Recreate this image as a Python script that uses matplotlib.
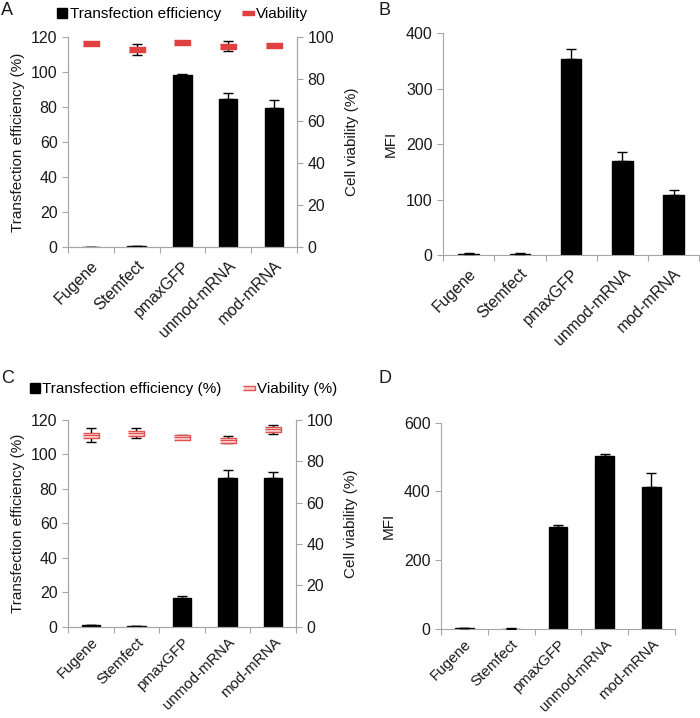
import matplotlib
matplotlib.use('Agg')
import matplotlib.pyplot as plt
from matplotlib.lines import Line2D
import numpy as np

plt.rcParams['font.family'] = ['Liberation Sans', 'DejaVu Sans']
plt.rcParams['font.size'] = 11

categories = ['Fugene', 'Stemfect', 'pmaxGFP', 'unmod-mRNA', 'mod-mRNA']

# panel A
a_eff = [0, 0.3, 98.1, 84.6, 79.2]
a_eff_err = [0, 0.2, 0.5, 3.2, 5.0]
a_via = [97.0, 94.1, 97.6, 95.7, 96.2]
a_via_err = [0.4, 2.6, 0.4, 2.6, 0.5]
# panel B
b_mfi = [2, 2, 354, 170, 109]
b_mfi_err = [1, 1, 18, 16, 8]
# panel C
c_eff = [0.8, 0.2, 16.5, 86.5, 86.5]
c_eff_err = [0.4, 0.1, 1.3, 4.5, 3.2]
c_via = [92.8, 93.6, 91.6, 90.4, 95.4]
c_via_err = [3.5, 2.5, 1.0, 1.6, 2.1]
# panel D
d_mfi = [2, 1, 296, 503, 413]
d_mfi_err = [1, 0.5, 7, 7, 40]

GRAY = '#a6a6a6'
TXT = '#1a1a1a'
dash = [(-1, -0.3), (1, -0.3), (1, 0.3), (-1, 0.3)]

fig = plt.figure(figsize=(7, 7.18), dpi=100)
x = np.arange(len(categories))


def style_x(ax, size=11.5, pad=8):
    ax.set_xlim(-0.5, len(categories) - 0.5)
    ax.set_xticks(np.arange(len(categories) + 1) - 0.5)
    ax.set_xticklabels([])
    ax.set_xticks(x, minor=True)
    ax.set_xticklabels(categories, minor=True, rotation=45, ha='right', va='top',
                       rotation_mode='anchor', color=TXT, fontsize=size)
    ax.tick_params(axis='x', which='major', direction='out', length=4, color=GRAY)
    ax.tick_params(axis='x', which='minor', length=0, pad=pad)
    ax.tick_params(axis='y', direction='out', length=4, color=GRAY, labelcolor=TXT,
                   labelsize=11.5)
    ax.spines['top'].set_visible(False)
    for s in ['left', 'bottom', 'right']:
        ax.spines[s].set_color(GRAY)


def bars(ax, vals, errs):
    ax.bar(x, vals, width=0.4, color='black', edgecolor='black', zorder=2)
    ax.errorbar(x, vals, yerr=[np.zeros(len(vals)), errs], fmt='none',
                ecolor='black', elinewidth=1, capsize=3.5, capthick=1, zorder=3)


def via_panel(rect, eff, eff_err, via, via_err, filled, leg1, leg2, letter, leg_x, leg_y,
              let_y, xsize, xpad):
    ax = fig.add_axes(rect)
    bars(ax, eff, eff_err)
    style_x(ax, xsize, xpad)
    ax.set_ylim(0, 120)
    ax.set_yticks(range(0, 121, 20))
    ax.set_ylabel('Transfection efficiency (%)', color=TXT, labelpad=4)
    ax2 = ax.twinx()
    ax2.set_ylim(0, 100)
    ax2.set_yticks(range(0, 101, 20))
    ax2.tick_params(axis='y', direction='out', length=4, color=GRAY, labelcolor=TXT,
                    labelsize=11.5)
    for s in ['left', 'bottom', 'right']:
        ax2.spines[s].set_color(GRAY)
    ax2.spines['top'].set_visible(False)
    ax2.set_ylabel('Cell viability (%)', color=TXT, labelpad=8)
    ax2.errorbar(x, via, yerr=via_err, fmt='none', ecolor='black', elinewidth=1,
                 capsize=3.5, capthick=1, zorder=2)
    if filled:
        mk = dict(marker=dash, markersize=12, color='#e0403f', markeredgecolor='#e0403f',
                  markerfacecolor='#e0403f', linestyle='none')
    else:
        mk = dict(marker=dash, markersize=12, color='#e05050', markeredgecolor='#e05050',
                  markerfacecolor='#f9d0d0', markeredgewidth=1, linestyle='none')
    ax2.plot(x, via, zorder=3, **mk)
    if not filled:
        ax2.plot(x, via, marker='_', markersize=11, markeredgewidth=0.8,
                 color='#e05050', linestyle='none', zorder=4)
    h1 = Line2D([], [], marker='s', color='black', markersize=7, linestyle='none')
    lk = dict(mk)
    lk['markersize'] = 8
    h2 = Line2D([], [], **lk)
    ax.legend([h1, h2], [leg1, leg2], ncol=2, frameon=False, loc='center left',
              bbox_to_anchor=(leg_x, leg_y), handlelength=0.8, handletextpad=0.1,
              columnspacing=1.4, borderaxespad=0, fontsize=11)
    fig.text(0.002, let_y, letter, fontsize=13, color=TXT, va='top')
    return ax


def mfi_panel(rect, vals, errs, ymax, letter, ty, xsize, xpad):
    ax = fig.add_axes(rect)
    bars(ax, vals, errs)
    style_x(ax, xsize, xpad)
    ax.spines['right'].set_visible(False)
    ax.set_ylim(0, ymax)
    ax.set_yticks(np.arange(0, ymax + 1, 100 if ymax == 400 else 200))
    ax.set_ylabel('MFI', color=TXT, labelpad=6)
    fig.text(0.541, ty, letter, fontsize=13, color=TXT, va='top')
    return ax


via_panel([0.0971, 0.656, 0.327, 0.2925], a_eff, a_eff_err, a_via, a_via_err, True,
          'Transfection efficiency', 'Viability', 'A', -0.08, 1.11, 0.997, 11.5, 8)
mfi_panel([0.633, 0.6448, 0.366, 0.309], b_mfi, b_mfi_err, 400, 'B', 0.997, 11.5, 8)
via_panel([0.0971, 0.1272, 0.3258, 0.2879], c_eff, c_eff_err, c_via, c_via_err, False,
          'Transfection efficiency (%)', 'Viability (%)', 'C', -0.2, 1.15, 0.485, 10.8, 6)
mfi_panel([0.63, 0.124, 0.334, 0.2873], d_mfi, d_mfi_err, 600, 'D', 0.485, 10.8, 6)

fig.savefig('out.png', dpi=100)
